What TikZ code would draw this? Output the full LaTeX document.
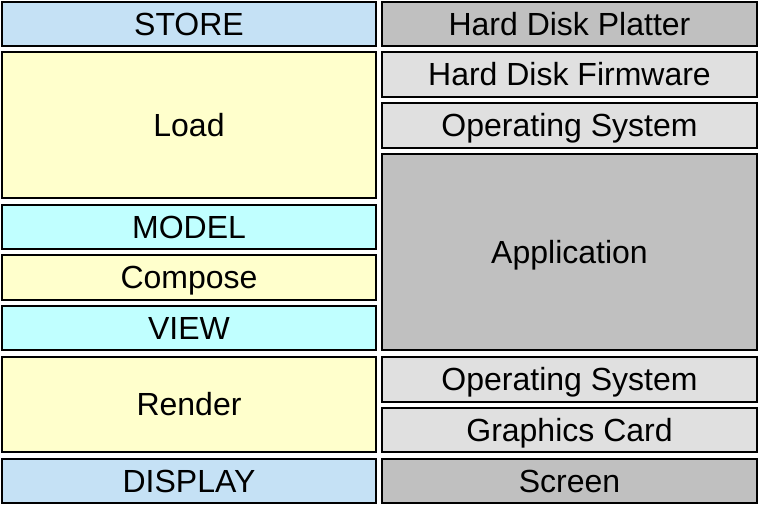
\documentclass[tikz,border=0pt]{standalone}
\usepackage{fontspec}
\setmainfont{Liberation Sans}
\definecolor{cblue}{RGB}{197,225,245}
\definecolor{cyellow}{RGB}{255,255,204}
\definecolor{ccyan}{RGB}{192,255,255}
\definecolor{cgray}{RGB}{192,192,192}
\definecolor{clgray}{RGB}{224,224,224}
\tikzset{
  layer/.style={draw=black, line width=2pt, inner sep=0pt, outer sep=0pt,
    font=\fontsize{32}{36}\selectfont, text=black, text height=22.5pt, text depth=0pt},
  lcol/.style={layer, minimum width=374pt},
  rcol/.style={layer, minimum width=375pt},
}
\begin{document}
\begin{tikzpicture}[x=1pt,y=1pt]
\useasboundingbox (0,0) rectangle (758,-504);
% left column
\node[lcol, fill=cblue,   minimum height=43.5pt] (store)   at (189,-23.75)  {STORE};
\node[lcol, fill=cyellow, minimum height=146pt]  (load)    at (189,-125)    {Load};
\node[lcol, fill=ccyan,   minimum height=43.5pt] (model)   at (189,-226.75) {MODEL};
\node[lcol, fill=cyellow, minimum height=44.5pt] (compose) at (189,-277.25) {Compose};
\node[lcol, fill=ccyan,   minimum height=44pt]   (view)    at (189,-328)    {VIEW};
\node[lcol, fill=cyellow, minimum height=95pt]   (render)  at (189,-404.5)  {Render};
\node[lcol, fill=cblue,   minimum height=43.5pt] (display) at (189,-480.75) {DISPLAY};
% right column
\node[rcol, fill=cgray,  minimum height=43.5pt] (platter)  at (569.5,-23.75)  {Hard Disk Platter};
\node[rcol, fill=clgray, minimum height=45pt]   (firmware) at (569.5,-74.5)   {Hard Disk Firmware};
\node[rcol, fill=clgray, minimum height=45pt]   (os1)      at (569.5,-125.5)  {Operating System};
\node[rcol, fill=cgray,  minimum height=196pt]  (app)      at (569.5,-252)    {Application};
\node[rcol, fill=clgray, minimum height=45pt]   (os2)      at (569.5,-379.5)  {Operating System};
\node[rcol, fill=clgray, minimum height=44pt]   (gfx)      at (569.5,-430)    {Graphics Card};
\node[rcol, fill=cgray,  minimum height=43.5pt] (screen)   at (569.5,-480.75) {Screen};
\end{tikzpicture}
\end{document}
